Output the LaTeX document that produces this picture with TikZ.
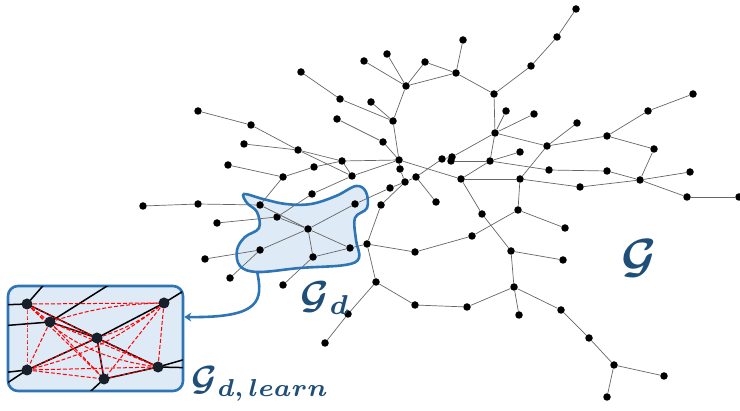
\documentclass[tikz,border=0pt]{standalone}
\usepackage{amsmath,bm}
\usetikzlibrary{arrows.meta}

\definecolor{blobfill}{HTML}{DEEAF6}
\definecolor{blobline}{HTML}{2E75B6}
\definecolor{labelblue}{HTML}{1F4E79}
\definecolor{darkdot}{HTML}{17202A}

\begin{document}
\begin{tikzpicture}[x=1pt,y=-1pt,
    dot/.style={circle, fill=black, inner sep=0pt, minimum size=7.5pt},
    bigdot/.style={circle, fill=darkdot, inner sep=0pt, minimum size=11pt},
    edge/.style={draw=black!60, line width=0.7pt},
    inedge/.style={draw=black, line width=1.5pt},
    reddash/.style={draw=red, line width=1pt, dash pattern=on 4pt off 2pt},
    outline/.style={draw=blobline, line width=2.6pt},
    lbl/.style={text=labelblue, inner sep=0pt}]
    \useasboundingbox (0,0) rectangle (740,411);

    % shaded sub-region of the big graph
    \fill[blobfill] plot[smooth cycle, tension=0.6] coordinates {
        (244,194) (263,199) (286,204) (311,204) (336,196) (356,186) (366,192)
        (367,208) (355,218) (356,240) (359,258) (345,265) (300,268) (258,272)
        (240,266) (237,250) (245,237) (259,228) (257,212) (247,203)};

    % vertices of the big graph (pixel positions, y pointing down)
    \foreach \n/\x/\y in {a1/576/9, a2/557/37, a3/531/66, a4/494/94,
        b1/463/40, b2/456/73, b3/425/62, b4/387/54, b5/364/61, b6/406/86,
        c1/301/72, c2/340/99, c3/371/102, c4/393/121, c5/337/119, c6/383/142,
        d1/198/111, d2/251/125, d3/244/144, d4/298/150, d5/342/161, d6/228/165,
        d7/314/167, d8/352/176, d9/283/177, d10/312/194,
        e1/143/206, e2/198/204, e3/260/205, e4/355/204, e5/277/217, e6/308/229,
        e7/217/223, e8/260/250, e9/350/248, e10/313/257, e11/205/259,
        e12/230/278, e13/283/285,
        f1/399/160, f2/400/169, f3/405/182, f4/416/177, f5/390/188, f6/381/205,
        f7/436/202, f8/442/159, f9/452/157, fa/451/161, f10/490/161,
        f11/461/179, f12/520/152,
        g1/506/111, g2/534/114, g3/495/133, g4/577/123, g5/547/146, g6/607/136,
        g7/648/111, g8/693/94, g9/654/149, g10/549/170, g11/607/171,
        g12/690/172, g13/640/180, g14/687/197, g15/739/197, g16/580/187,
        g17/520/179,
        h1/482/214, h2/518/210, h3/565/228, h4/472/236, h5/415/252, h6/511/251,
        h7/563/260, h8/514/287, h9/519/315, h10/467/307, h11/415/305,
        h12/561/310, h13/589/338, h14/614/365, h15/664/376, h16/607/397,
        i1/367/244, i2/376/282, i3/348/314, i4/325/343} {
        \node[dot] (\n) at (\x,\y) {};
    }

    % edges of the big graph
    \foreach \a/\b in {a1/a2, a2/a3, a3/a4, a4/b2, b1/b2, b2/b3, b2/b6, b3/b6,
        b4/b6, b5/b6, b6/c4, a4/g3,
        c1/c2, c2/c4, c3/c4, c4/f1, c5/c6, c6/f1,
        d1/d2, d2/d4, d3/d4, d4/d5, d4/d8, d5/f1, d5/d7, d7/d9, d6/d9, d9/e3,
        d5/d8, d8/f1, d8/d10, d10/e5,
        e1/e2, e2/e3, e3/e6, e5/e6, e7/e5, e6/e9, e4/e6, e4/f5, e6/e10, e6/e8,
        e10/e9, e10/e13, e8/e11, e8/e12, e9/i1,
        f1/f2, f2/f3, f3/f4, f3/f5, f3/f6, f4/f8, f4/f7, f8/f9, f9/g3, fa/f10,
        f1/f11, f11/f10, f10/g3, f10/f12, f10/g10, f11/g17, f11/h1,
        g3/g1, g3/g2, g3/g5, g5/g4, g5/g6, g5/g17, g6/g7, g7/g8, g6/g9, g9/g13,
        g10/g11, g11/g13, g13/g12, g13/g14, g14/g15, g13/g16, g16/g17, g17/h2,
        h1/h6, h2/h4, h4/h5, h2/h3, h6/h7, h6/h8, h8/h9, h8/h10, h10/h11,
        h8/h12, h12/h13, h13/h14, h14/h15, h14/h16,
        i1/f6, i1/h5, i1/i2, i2/h11, i2/i3, i3/i4} {
        \draw[edge] (\a) -- (\b);
    }

    % outline of the sub-region on top of the edges
    \draw[outline] plot[smooth cycle, tension=0.6] coordinates {
        (244,194) (263,199) (286,204) (311,204) (336,196) (356,186) (366,192)
        (367,208) (355,218) (356,240) (359,258) (345,265) (300,268) (258,272)
        (240,266) (237,250) (245,237) (259,228) (257,212) (247,203)};
    \coordinate (blobfoot) at (257,271);

    % zoomed copy of the sub-region
    \node[outline, fill=blobfill, rounded corners=10pt, minimum width=175pt,
        minimum height=105pt] (inset) at (95.5,338.5) {};

    \foreach \n/\x/\y in {p1/27/304, p2/50/322, p3/97/338, p4/164/303,
        p5/27/370, p6/104/379, p7/158/367} {
        \coordinate (\n c) at (\x,\y);
    }
    % loose ends leaving the box
    \foreach \n/\x/\y in {q1/48/280, q2/0/305, q3/0/326, q4/115/281,
        q5/198/282, q6/0/373, q7/-8/393, q8/80/401, q9/200/355, q10/200/368} {
        \coordinate (\n) at (\x,\y);
    }

    \begin{scope}
        \clip[rounded corners=9pt] ([shift={(1.4pt,1.4pt)}]inset.south west)
            rectangle ([shift={(-1.4pt,-1.4pt)}]inset.north east);
        \foreach \a/\b in {p1c/p3c, p2c/p3c, p3c/p7c, p5c/p3c, p3c/p4c,
            p3c/p6c, p6c/p7c, p1c/q1, p1c/q2, p2c/q3, p2c/q4, p4c/q5,
            p5c/q6, p5c/q7, p6c/q8, p7c/q9, p7c/q10} {
            \draw[inedge] (\a) -- (\b);
        }
        % every pair of vertices in the learned graph
        \foreach \a/\b/\bd in {p1c/p2c/0, p1c/p3c/0, p1c/p4c/0, p1c/p5c/0,
            p1c/p6c/0, p1c/p7c/-18, p2c/p3c/0, p2c/p4c/8, p2c/p5c/0, p2c/p6c/0,
            p2c/p7c/0, p3c/p4c/-10, p3c/p5c/0, p3c/p6c/0, p3c/p7c/0,
            p4c/p5c/12, p4c/p6c/0, p4c/p7c/0, p5c/p6c/0, p5c/p7c/0, p6c/p7c/0} {
            \draw[reddash] (\a) to[bend left=\bd] (\b);
        }
    \end{scope}

    \foreach \n in {p1,p2,p3,p4,p5,p6,p7} {
        \node[bigdot] (\n) at (\n c) {};
    }

    % arrow from the region to its zoomed copy
    \draw[outline, -{Stealth[length=7pt,width=9pt]}] (blobfoot)
        .. controls (263,300) and (262,318) .. ([yshift=21.5pt]inset.east);

    % labels
    \node[lbl, scale=4.8] (gbig) at (639,258) {$\boldsymbol{\mathcal{G}}$};
    \node[lbl, scale=3.9, anchor=west] (gsub) at (300,298) {$\boldsymbol{\mathcal{G}_{d}}$};
    \node[lbl, scale=3.5, anchor=west] (glearn) at (191,384) {$\boldsymbol{\mathcal{G}_{d,\,learn}}$};
\end{tikzpicture}
\end{document}
